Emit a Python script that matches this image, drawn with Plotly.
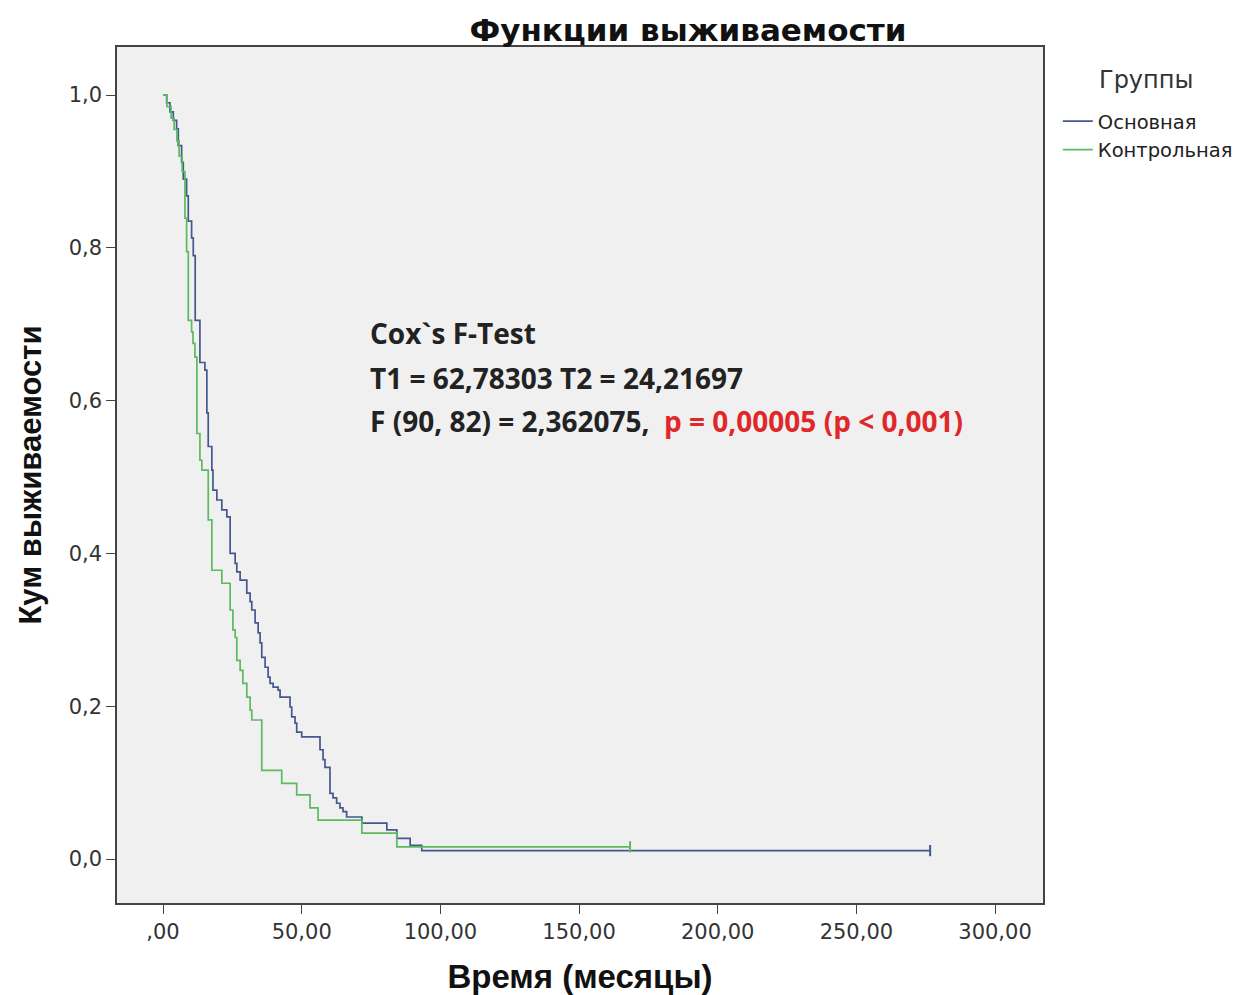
import plotly.graph_objects as go

# Основная (blue) Kaplan-Meier steps: time (months), survival
main_t = [0.0, 1.3, 2.5, 3.7, 4.9, 5.5, 6.7, 7.3, 8.5, 9.1, 10.3, 10.9, 11.6, 13.3, 15.1, 15.8,
          16.3, 17.6, 18.0, 19.4, 21.2, 23.0, 24.2, 26.0, 26.6, 27.8, 30.2, 31.4, 32.0, 33.2,
          34.3, 35.0, 35.6, 36.8, 37.9, 38.6, 39.7, 41.5, 42.2, 45.8, 46.4, 47.6, 48.2, 50.0,
          56.6, 57.7, 58.4, 60.2, 61.3, 62.6, 63.8, 64.9, 66.2, 71.7, 80.7, 84.3, 89.1, 93.3,
          276.6]
main_s = [1.0, 0.99, 0.978, 0.967, 0.956, 0.934, 0.912, 0.89, 0.868, 0.835, 0.813, 0.79, 0.705,
          0.65, 0.64, 0.584, 0.54, 0.509, 0.483, 0.47, 0.457, 0.448, 0.40, 0.387, 0.376, 0.365,
          0.348, 0.337, 0.326, 0.309, 0.296, 0.283, 0.264, 0.251, 0.238, 0.23, 0.225, 0.221,
          0.212, 0.199, 0.186, 0.178, 0.166, 0.16, 0.143, 0.13, 0.12, 0.086, 0.08, 0.073, 0.067,
          0.062, 0.055, 0.047, 0.038, 0.027, 0.018, 0.011, 0.011]

# Контрольная (green)
ctrl_t = [0.0, 1.4, 2.9, 4.0, 5.0, 5.8, 6.9, 7.9, 8.5, 9.1, 10.3, 10.8, 11.5, 12.2, 13.3, 14.0,
          16.3, 17.6, 21.2, 24.2, 25.2, 26.0, 26.6, 27.8, 28.8, 30.2, 31.4, 32.0, 35.6, 42.8,
          48.2, 53.0, 55.9, 71.7, 84.3, 168.4]
ctrl_s = [1.0, 0.985, 0.97, 0.955, 0.94, 0.92, 0.90, 0.839, 0.795, 0.705, 0.69, 0.675, 0.657,
          0.557, 0.522, 0.509, 0.444, 0.378, 0.361, 0.326, 0.30, 0.29, 0.26, 0.247, 0.23, 0.212,
          0.195, 0.182, 0.116, 0.099, 0.084, 0.067, 0.051, 0.034, 0.016, 0.016]

x_ticks = [0, 50, 100, 150, 200, 250, 300]
x_ticktext = [",00", "50,00", "100,00", "150,00", "200,00", "250,00", "300,00"]
y_ticks = [0.0, 0.2, 0.4, 0.6, 0.8, 1.0]
y_ticktext = ["0,0", "0,2", "0,4", "0,6", "0,8", "1,0"]

BLUE = "#44578f"
GREEN = "#5cba5f"

W, H = 1244, 987
L, T, PW, PH = 109, 39, 926, 856

fig = go.Figure()
fig.add_trace(go.Scatter(x=main_t, y=main_s, mode="lines", line_shape="hv",
                         line=dict(color=BLUE, width=1.7), name="Основная"))
fig.add_trace(go.Scatter(x=ctrl_t, y=ctrl_s, mode="lines", line_shape="hv",
                         line=dict(color=GREEN, width=1.7), name="Контрольная"))
# censoring marks at the end of each curve
fig.add_trace(go.Scatter(x=[main_t[-1]], y=[main_s[-1]], mode="markers", showlegend=False,
                         marker=dict(symbol="line-ns", size=8, line=dict(color=BLUE, width=2))))
fig.add_trace(go.Scatter(x=[ctrl_t[-1]], y=[ctrl_s[-1]], mode="markers", showlegend=False,
                         marker=dict(symbol="line-ns", size=8, line=dict(color=GREEN, width=2))))

txt_font = dict(family="Open Sans, Lato, sans-serif", size=28, color="#222")
fig.add_annotation(x=73.9, y=0.688, xref="x", yref="y", xanchor="left", yanchor="middle",
                   text="<b>Cox`s F-Test</b>", showarrow=False, font=txt_font)
fig.add_annotation(x=73.9, y=0.630, xref="x", yref="y", xanchor="left", yanchor="middle",
                   text="<b>T1 = 62,78303 T2 = 24,21697</b>", showarrow=False, font=txt_font)
fig.add_annotation(x=73.9, y=0.574, xref="x", yref="y", xanchor="left", yanchor="middle",
                   text="<b>F (90, 82) = 2,362075,  <span style='color:#e0282a'>p = 0,00005 (p &lt; 0,001)</span></b>",
                   showarrow=False, font=txt_font)
# legend title
fig.add_annotation(x=(1089 - L) / PW, y=(T + PH - 72) / PH, xref="paper", yref="paper",
                   text="Группы", showarrow=False,
                   font=dict(family="DejaVu Sans", size=24, color="#333"),
                   xanchor="left", yanchor="middle")

fig.update_layout(
    width=W, height=H,
    margin=dict(l=L, r=W - L - PW, t=T, b=H - T - PH, autoexpand=False),
    paper_bgcolor="white", plot_bgcolor="#f0f0f0",
    title=dict(text="<b>Функции выживаемости</b>", x=680 / W, xref="container", xanchor="center",
               y=1 - 22 / H, yref="container", yanchor="middle",
               font=dict(family="DejaVu Sans", size=31, color="#111")),
    legend=dict(x=1.016, y=0.9357, xanchor="left", yanchor="top", bgcolor="rgba(0,0,0,0)",
                font=dict(family="DejaVu Sans", size=19.5, color="#222"),
                itemwidth=30, tracegroupgap=0),
    showlegend=True,
)

fig.update_xaxes(range=[-16.6, 317.3], tickvals=x_ticks, ticktext=x_ticktext,
                 showgrid=False, zeroline=False, showline=True, mirror=True,
                 linecolor="#444", linewidth=1.5, ticks="outside", ticklen=9, tickcolor="#444",
                 tickfont=dict(family="DejaVu Sans", size=21, color="#333"),
                 title=dict(text="<b>Время (месяцы)</b>", standoff=22,
                            font=dict(family="Liberation Sans, Arial", size=33, color="#111")))
fig.update_yaxes(range=[-0.0576, 1.063], tickvals=y_ticks, ticktext=y_ticktext,
                 showgrid=False, zeroline=False, showline=True, mirror=True,
                 linecolor="#444", linewidth=1.5, ticks="outside", ticklen=9, tickcolor="#444",
                 tickfont=dict(family="DejaVu Sans", size=21, color="#333"),
                 title=dict(text="<b>Кум выживаемости</b>", standoff=18,
                            font=dict(family="Liberation Sans, Arial", size=31, color="#111")))

fig.write_html("out.html")
